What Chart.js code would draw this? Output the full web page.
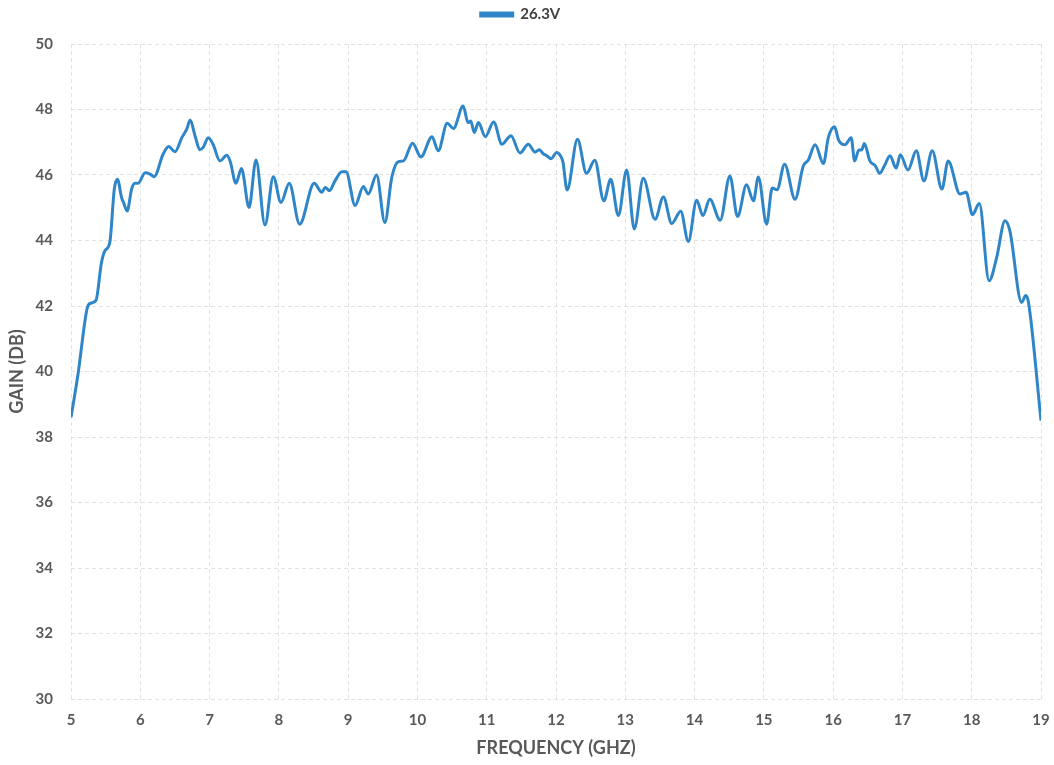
<!DOCTYPE html>
<html>
<head>
<meta charset="utf-8">
<script src="https://cdn.jsdelivr.net/npm/chart.js@4"></script>
<style>
  html, body { margin: 0; padding: 0; background: #fff; }
  #wrap { width: 1054px; height: 765px; }
</style>
</head>
<body>
<div id="wrap"><canvas id="grafico"></canvas></div>
<script>
// frequência (GHz) e ganho (dB)
const frequencias = [
  5.0, 5.1, 5.23, 5.27, 5.36, 5.44, 5.49, 5.56, 5.625, 5.67, 5.73, 5.76, 5.81, 5.875, 5.92, 5.97,
  6.07, 6.14, 6.2, 6.33, 6.41, 6.5, 6.6, 6.67, 6.72, 6.79, 6.86, 6.91, 6.98, 7.05, 7.15, 7.25,
  7.3, 7.38, 7.46, 7.57, 7.67, 7.8, 7.92, 8.03, 8.15, 8.3, 8.51, 8.62, 8.67, 8.73, 8.81, 8.91,
  8.97, 9.1, 9.22, 9.29, 9.41, 9.53, 9.63, 9.72, 9.8, 9.93, 10.05, 10.21, 10.3, 10.43, 10.52,
  10.66, 10.73, 10.77, 10.82, 10.88, 10.98, 11.1, 11.22, 11.35, 11.48, 11.6, 11.7, 11.76, 11.82,
  11.86, 11.93, 12.01, 12.06, 12.1, 12.16, 12.31, 12.44, 12.56, 12.69, 12.79, 12.9, 13.02, 13.13,
  13.26, 13.43, 13.55, 13.67, 13.8, 13.91, 14.03, 14.12, 14.22, 14.37, 14.51, 14.62, 14.75, 14.85,
  14.92, 15.04, 15.12, 15.19, 15.3, 15.45, 15.57, 15.64, 15.74, 15.86, 15.93, 16.02, 16.08, 16.17,
  16.26, 16.31, 16.37, 16.41, 16.45, 16.53, 16.61, 16.67, 16.74, 16.82, 16.91, 16.97, 17.08, 17.2,
  17.31, 17.43, 17.57, 17.66, 17.83, 17.92, 18.01, 18.11, 18.25, 18.36, 18.48, 18.55, 18.72, 18.78,
  18.82, 19.0
];
const ganho = [
  38.6, 39.9, 41.9, 42.07, 42.17, 43.33, 43.69, 43.94, 45.57, 45.87, 45.31, 45.15, 44.9, 45.57, 45.75, 45.75,
  46.07, 46.03, 45.95, 46.64, 46.87, 46.71, 47.14, 47.4, 47.68, 47.2, 46.77, 46.85, 47.14, 46.94, 46.43, 46.6,
  46.4, 45.75, 46.2, 45.01, 46.46, 44.47, 45.95, 45.16, 45.75, 44.5, 45.75, 45.47, 45.62, 45.52, 45.82, 46.1,
  46.1, 45.07, 45.65, 45.42, 46.0, 44.55, 45.93, 46.4, 46.43, 46.97, 46.55, 47.17, 46.74, 47.58, 47.42,
  48.11, 47.6, 47.65, 47.3, 47.6, 47.17, 47.62, 46.94, 47.2, 46.67, 46.94, 46.7, 46.77, 46.64,
  46.6, 46.5, 46.69, 46.6, 46.4, 45.54, 47.09, 46.05, 46.45, 45.21, 45.87, 44.76, 46.15, 44.35,
  45.9, 44.65, 45.33, 44.52, 44.89, 43.97, 45.23, 44.76, 45.26, 44.62, 45.97, 44.73, 45.7, 45.21,
  45.94, 44.5, 45.6, 45.55, 46.33, 45.26, 46.28, 46.45, 46.92, 46.35, 47.14, 47.47, 47.06, 46.92,
  47.14, 46.43, 46.76, 46.76, 46.96, 46.43, 46.28, 46.05, 46.28, 46.59, 46.21, 46.62, 46.15, 46.74,
  45.82, 46.74, 45.57, 46.43, 45.42, 45.47, 44.79, 45.13, 42.77, 43.48, 44.6, 44.3, 42.11, 42.32,
  42.1, 38.5
];
const rotuloSerie = '26.3V';
const tituloX = 'FREQUENCY (GHZ)';
const tituloY = 'GAIN (DB)';

const pontos = frequencias.map((f, i) => ({ x: f, y: ganho[i] }));
const corTexto = '#595959';
const corGrade = '#e3e3e3';
const fonte = 'Lato, "Open Sans", sans-serif';

// espaço extra abaixo da legenda
const margemLegenda = {
    id: 'margemLegenda',
    beforeInit(chart) {
        const fitOriginal = chart.legend.fit;
        chart.legend.fit = function () {
            fitOriginal.bind(chart.legend)();
            this.height += 12;
        };
    }
};

new Chart(document.getElementById('grafico'), {
    type: 'line',
    data: {
        datasets: [{
            label: rotuloSerie,
            data: pontos,
            borderColor: '#2e86c9',
            backgroundColor: '#2e86c9',
            borderWidth: 3,
            pointRadius: 0,
            cubicInterpolationMode: 'monotone',
            fill: false
        }]
    },
    options: {
        responsive: true,
        maintainAspectRatio: false,
        animation: false,
        layout: { padding: { top: 0, right: 13, bottom: 0, left: 0 } },
        plugins: {
            legend: {
                position: 'top',
                labels: {
                    boxWidth: 32,
                    boxHeight: 3,
                    padding: 7,
                    color: '#404040',
                    font: { family: fonte, size: 15, weight: 'bold' }
                }
            },
            tooltip: { enabled: false }
        },
        scales: {
            x: {
                type: 'linear',
                min: 5,
                max: 19,
                ticks: {
                    stepSize: 1,
                    padding: 12,
                    color: corTexto,
                    font: { family: fonte, size: 15, weight: 'bold' }
                },
                grid: { color: corGrade, drawTicks: false },
                border: { display: false, dash: [4, 3] },
                title: {
                    display: true,
                    text: tituloX,
                    color: corTexto,
                    font: { family: fonte, size: 18, weight: 'bold' },
                    padding: { top: 4, bottom: 6 }
                },
                afterFit: (escala) => {
                    escala.height = 66;
                    escala.paddingLeft = 0;
                    escala.paddingRight = 0;
                }
            },
            y: {
                min: 30,
                max: 50,
                ticks: {
                    stepSize: 2,
                    padding: 18,
                    color: corTexto,
                    font: { family: fonte, size: 15, weight: 'bold' }
                },
                grid: { color: corGrade, drawTicks: false },
                border: { display: false, dash: [4, 3] },
                title: {
                    display: true,
                    text: tituloY,
                    color: corTexto,
                    font: { family: fonte, size: 18, weight: 'bold' },
                    padding: { top: 6, bottom: 4 }
                },
                afterFit: (escala) => { escala.width = 71; }
            }
        }
    },
    plugins: [margemLegenda]
});
</script>
</body>
</html>
